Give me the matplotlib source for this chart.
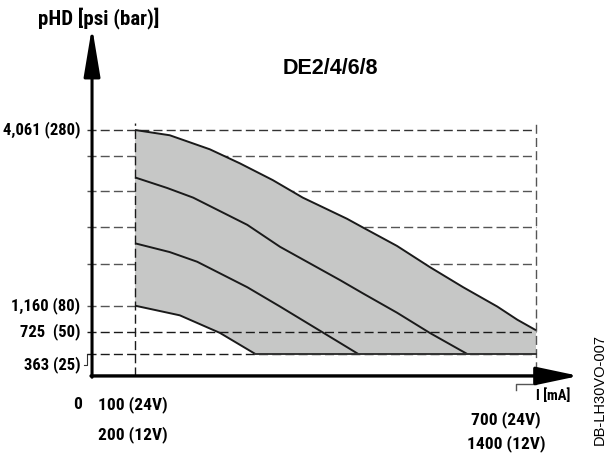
import matplotlib
matplotlib.use('Agg')
import matplotlib.pyplot as plt
import numpy as np

# pressure / current envelope (x in mA at 24V, y in bar)
top_x = [100, 152, 212, 257, 306, 351, 417, 441, 492, 541, 591, 642, 672, 700]
top_y = [280, 274, 258, 242, 223, 203, 179, 169, 148, 124, 101, 79, 64, 52]

mid1_x = [100, 148, 187, 268, 317, 407, 441, 492, 541, 597]
mid1_y = [226, 214, 203, 172, 147, 109, 94, 72, 49, 25]

mid2_x = [100, 152, 193, 268, 317, 407, 434]
mid2_y = [151, 141, 130, 101, 79, 37.5, 25]

low_x = [100, 167, 227, 280]
low_y = [80, 69, 49, 25]

i_min, i_max = 100, 700
p_floor = 25

# reference levels (bar) and labels
grid_back = [280, 250, 210, 170, 128]
grid_front = [50, 25]
y_ticks = [280, 80, 50, 25]
y_labels = ['4,061 (280)', '1,160 (80)', '725  (50)', '363 (25)']
x_labels_min = ['100 (24V)', '200 (12V)']
x_labels_max = ['700 (24V)', '1400 (12V)']

narrow = ['Roboto Condensed', 'Liberation Sans', 'DejaVu Sans']

fig = plt.figure(figsize=(6.07, 4.57), dpi=100)
ax = fig.add_axes([0, 0, 1, 1])
ax.set_xlim(-102, 806.2)
ax.set_ylim(-92.3, 428.0)
ax.axis('off')

x_axis = 35.7   # where the y axis sits
x_left = 28     # left end of the dashed lines

# dashed reference lines behind the area
dash = dict(ls=(0, (6.5, 3)), lw=1.0)
for i, y in enumerate(grid_back):
    ax.plot([x_left, i_max], [y, y], color='#333333' if i == 0 else '#555555', zorder=1, **dash)
ax.plot([x_left, i_min], [80, 80], color='#555555', zorder=1, **dash)

# shaded working area
bx = low_x + [i_max]
by = low_y + [p_floor]
env_x = np.concatenate([top_x, bx[::-1]])
env_y = np.concatenate([top_y, by[::-1]])
ax.fill(env_x, env_y, color='#c6c7c6', lw=0, zorder=2)

for xs, ys in [(top_x, top_y), (mid1_x, mid1_y), (mid2_x, mid2_y), (low_x, low_y)]:
    ax.plot(xs, ys, color='#1a1a1a', lw=1.4, zorder=4, solid_capstyle='butt')
ax.plot([low_x[-1], i_max], [p_floor, p_floor], color='#333333', lw=1.4, zorder=4)

# dashed lines on top of the area
for y in grid_front:
    ax.plot([x_left, i_max], [y, y], color='#1a1a1a', zorder=3, **dash)

# vertical limits
ax.plot([i_min, i_min], [0, 288], color='#1a1a1a', zorder=3, **dash)
ax.plot([i_max, i_max], [-9, 290], color='#555555', zorder=3, **dash)
ax.plot([i_max, 670, 670], [-9, -9, -16], color='#555555', lw=1.0, zorder=3)
ax.plot([x_left, x_left, x_left - 4], [p_floor, p_floor - 12, p_floor - 12], color='#333333', lw=0.8)

# axes with arrow heads
ax.annotate('', xy=(x_axis, 397.3), xytext=(x_axis, -1.5),
            arrowprops=dict(arrowstyle='-|>,head_length=3.0,head_width=0.5', lw=2.2,
                            color='black', shrinkA=0, shrinkB=0, mutation_scale=10), zorder=5)
ax.annotate('', xy=(764.3, 0), xytext=(x_axis - 1.5, 0),
            arrowprops=dict(arrowstyle='-|>,head_length=2.6,head_width=0.55', lw=2.4,
                            color='black', shrinkA=0, shrinkB=0, mutation_scale=10), zorder=5)

# labels
lab = dict(family=narrow, weight='bold', fontsize=12.5)
for y, t in zip(y_ticks, y_labels):
    yy = y - 12 if y == p_floor else y
    ax.text(18, yy, t, ha='right', va='center', family=narrow, weight='bold', fontsize=12)

ax.text(14, -33, '0', ha='center', va='center', **lab)
ax.text(i_min - 3, -33, x_labels_min[0], ha='center', va='center', **lab)
ax.text(i_min - 3, -67, x_labels_min[1], ha='center', va='center', **lab)
ax.text(i_max - 45, -50, x_labels_max[0], ha='center', va='center', **lab)
ax.text(i_max - 45, -77, x_labels_max[1], ha='center', va='center', **lab)
ax.text(i_max + 26, -22, 'I [mA]', ha='center', va='center', family=narrow, weight='bold', fontsize=10.5)

ax.text(46, 407.5, 'pHD [psi (bar)]', ha='center', va='center', family=narrow,
        weight='bold', fontsize=15)
ax.text(393, 349.5, 'DE2/4/6/8', ha='center', va='center', family='Liberation Sans',
        weight='bold', fontsize=15.5)
ax.text(795, -15, 'DB-LH30VO-007', ha='center', va='center', rotation=90,
        family='Liberation Sans', fontsize=10.5)

fig.savefig('out.png', dpi=100)
